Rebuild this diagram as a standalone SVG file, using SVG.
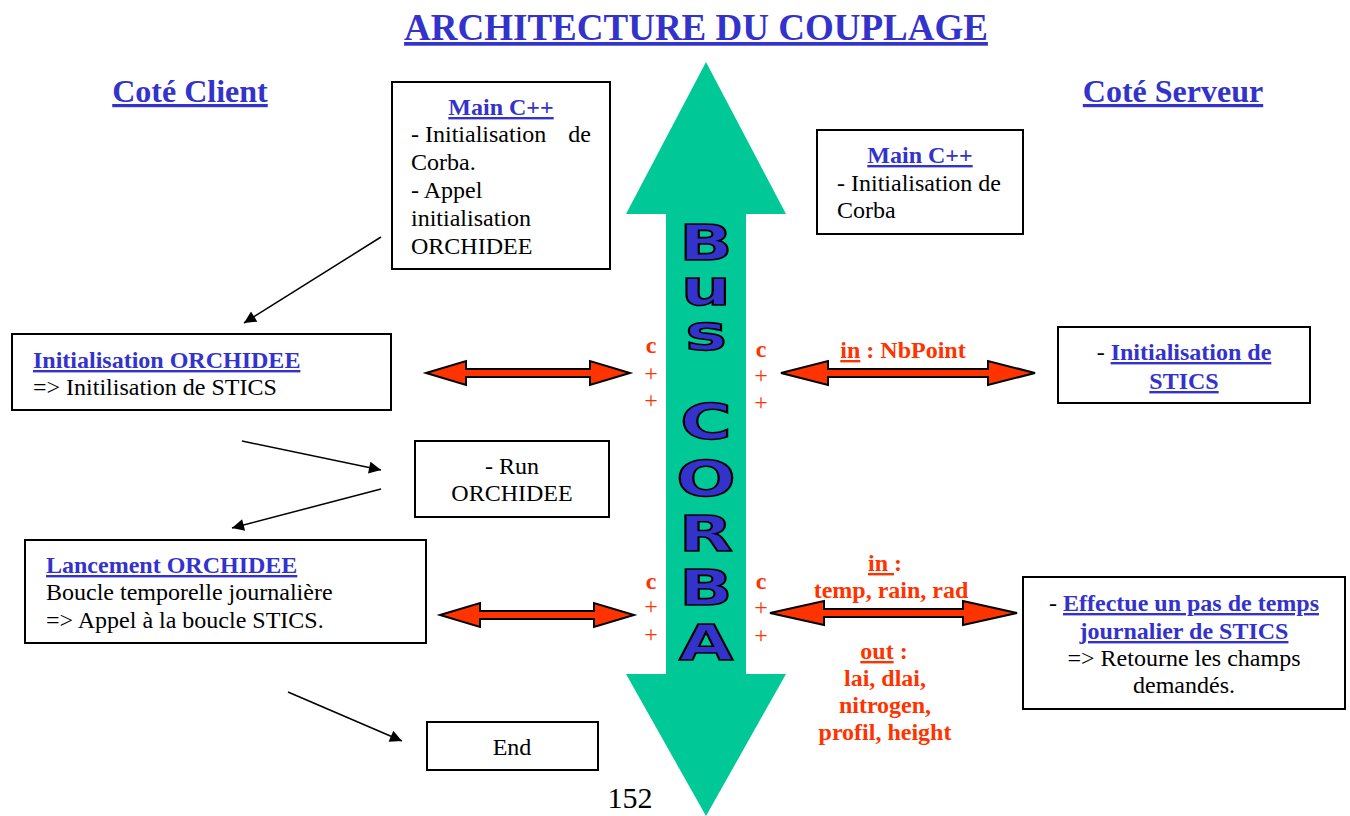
<svg xmlns="http://www.w3.org/2000/svg" width="1350" height="816" viewBox="0 0 1350 816">
<style>
text{font-family:"Liberation Serif","Times New Roman",serif;font-size:24px;fill:#000}
.t{font-weight:bold;fill:#3333cc;text-decoration:underline}
.h{font-weight:bold;fill:#3333cc;text-decoration:underline;font-size:32px}
.r{font-weight:bold;fill:#ff3300}
.c{fill:#ff3300}
.m{text-anchor:middle}
.box{fill:#fff;stroke:#000;stroke-width:2}
.red{fill:#ff3300;stroke:#000;stroke-width:2}
.ln{stroke:#000;stroke-width:1.5;fill:none;marker-end:url(#ah)}
.L{font-family:"DejaVu Sans","Liberation Sans",sans-serif;font-weight:bold;font-size:50px;fill:#3333cc;stroke:#000;stroke-width:1.6;text-anchor:middle}
</style>
<defs>
<marker id="ah" viewBox="0 0 10 10" refX="10" refY="5" markerWidth="13" markerHeight="12" markerUnits="userSpaceOnUse" orient="auto"><path d="M0,0L10,5L0,10z" fill="#000"/></marker>
</defs>
<text x="696" y="40" class="h m" style="font-size:37px">ARCHITECTURE DU COUPLAGE</text>
<text x="190" y="102" class="h m">Coté Client</text>
<text x="1173" y="102" class="h m">Coté Serveur</text>
<g id="bus">
<polygon points="706,62 786,214 746,214 746,674 786,674 706,816 626,674 666,674 666,214 626,214" fill="#00c896"/>
<g transform="translate(706,0) scale(1.4,1)">
<text class="L"><tspan x="0" y="260">B</tspan><tspan x="0" y="305">u</tspan><tspan x="0" y="350">s</tspan></text>
<text class="L"><tspan x="0" y="439">C</tspan><tspan x="0" y="496">O</tspan><tspan x="0" y="551">R</tspan><tspan x="0" y="605">B</tspan><tspan x="0" y="660">A</tspan></text>
</g>
</g>
<g id="cpp">
<text x="651" y="353" class="r m">c</text><text x="651" y="381" class="c m">+</text><text x="651" y="408" class="c m">+</text>
<text x="761" y="357" class="r m">c</text><text x="761" y="383" class="c m">+</text><text x="761" y="410" class="c m">+</text>
<text x="651" y="589" class="r m">c</text><text x="651" y="614" class="c m">+</text><text x="651" y="642" class="c m">+</text>
<text x="761" y="589" class="r m">c</text><text x="761" y="615" class="c m">+</text><text x="761" y="643" class="c m">+</text>
</g>
<g id="client-main">
<rect x="392" y="82" width="218" height="187" class="box"/>
<text x="501" y="115" class="t m">Main C++</text>
<text x="411" y="142">- Initialisation</text><text x="591" y="142" text-anchor="end">de</text>
<text x="411" y="170">Corba.</text>
<text x="411" y="198">- Appel</text>
<text x="411" y="226">initialisation</text>
<text x="411" y="254">ORCHIDEE</text>
</g>
<g id="server-main">
<rect x="817" y="130" width="206" height="104" class="box"/>
<text x="920" y="163" class="t m">Main C++</text>
<text x="837" y="191">- Initialisation de</text>
<text x="837" y="218">Corba</text>
</g>
<g id="init-orchidee">
<rect x="12" y="334" width="379" height="76" class="box"/>
<text x="33" y="368" class="t">Initialisation ORCHIDEE</text>
<text x="33" y="395">=&gt; Initilisation de STICS</text>
</g>
<g id="run">
<rect x="415" y="441" width="194" height="76" class="box"/>
<text x="512" y="474" class="m">- Run</text>
<text x="512" y="501" class="m">ORCHIDEE</text>
</g>
<g id="lancement">
<rect x="25" y="540" width="401" height="103" class="box"/>
<text x="46" y="573" class="t">Lancement ORCHIDEE</text>
<text x="46" y="600">Boucle temporelle journalière</text>
<text x="46" y="628">=&gt; Appel à la boucle STICS.</text>
</g>
<g id="end">
<rect x="427" y="722" width="171" height="48" class="box"/>
<text x="512" y="755" class="m">End</text>
</g>
<g id="init-stics">
<rect x="1058" y="327" width="252" height="76" class="box"/>
<text x="1184" y="360" class="m">- <tspan class="t">Initialisation de</tspan></text>
<text x="1184" y="389" class="t m">STICS</text>
</g>
<g id="effectue">
<rect x="1023" y="577" width="322" height="132" class="box"/>
<text x="1184" y="611" class="m">- <tspan class="t">Effectue un pas de temps</tspan></text>
<text x="1184" y="639" class="t m">journalier de STICS</text>
<text x="1184" y="666" class="m">=&gt; Retourne les champs</text>
<text x="1184" y="693" class="m">demandés.</text>
</g>
<g id="connectors">
<line x1="381" y1="237" x2="244" y2="323" class="ln"/>
<line x1="242" y1="441" x2="381" y2="470" class="ln"/>
<line x1="381" y1="489" x2="232" y2="528" class="ln"/>
<line x1="288" y1="692" x2="402" y2="741" class="ln"/>
<polygon class="red" points="426,373 466,361 466,369 590,369 590,361 630,373 590,385 590,377 466,377 466,385"/>
<polygon class="red" points="781,373 828,361 828,369 988,369 988,361 1035,373 988,385 988,377 828,377 828,385"/>
<polygon class="red" points="440,615 480,603 480,611 594,611 594,603 634,615 594,627 594,619 480,619 480,627"/>
<polygon class="red" points="770,613 824,601 824,609 963,609 963,601 1017,613 963,625 963,617 824,617 824,625"/>
</g>
<g id="labels">
<text x="903" y="358" class="r m"><tspan text-decoration="underline">in</tspan> : NbPoint</text>
<text x="885" y="571" class="r m"><tspan text-decoration="underline">in </tspan>:</text>
<text x="891" y="598" class="r m">temp, rain, rad</text>
<text x="884" y="659" class="r m"><tspan text-decoration="underline">out</tspan> :</text>
<text x="885" y="686" class="r m">lai, dlai,</text>
<text x="885" y="713" class="r m">nitrogen,</text>
<text x="885" y="740" class="r m">profil, height</text>
</g>
<text x="630" y="808" class="m" style="font-size:30px">152</text>
</svg>
